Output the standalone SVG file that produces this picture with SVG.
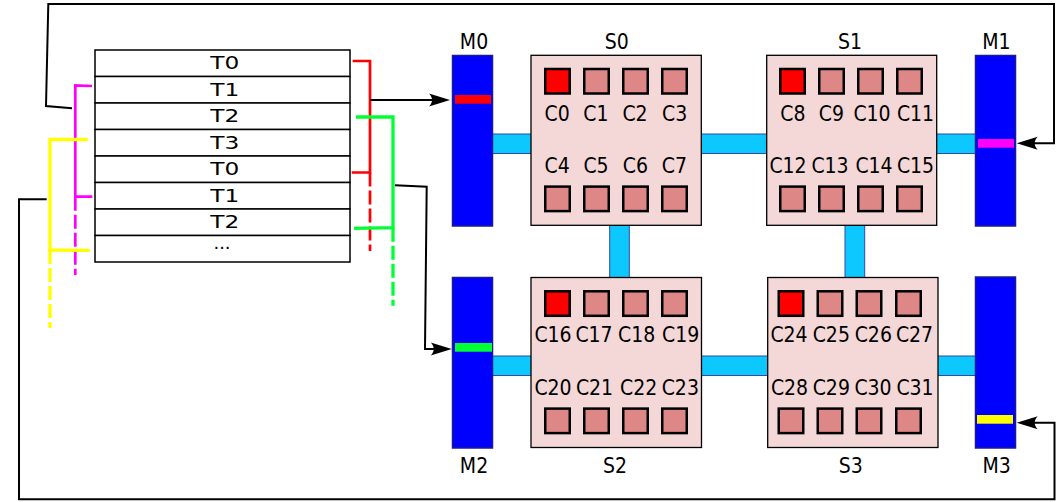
<svg xmlns="http://www.w3.org/2000/svg" width="1063" height="502" viewBox="0 0 1063 502">
<style>
.lbl{font-family:'DejaVu Sans Condensed','DejaVu Sans',sans-serif;font-stretch:condensed;font-size:21px;fill:#000;text-anchor:middle}
.ttxt{font-family:'DejaVu Sans',sans-serif;font-size:18px;fill:#000;text-anchor:middle}
.core{fill:#de8787;stroke:#000;stroke-width:2.5}
.hot{fill:#ff0000}
.sock{fill:#f4d7d7;stroke:#000;stroke-width:1.3}
.mem{fill:#0000ff;stroke:#1b1b8f;stroke-width:1.5}
.link{fill:#0cc8ff;stroke:#3548a5;stroke-width:1}
.row{fill:#fff;stroke:#000;stroke-width:1.5}
.wire{fill:none;stroke:#000;stroke-width:2}
.br{fill:none;stroke-linejoin:miter}
.dash{stroke-dasharray:14 4}
</style>
<defs>
<marker id="arr" markerUnits="userSpaceOnUse" markerWidth="26" markerHeight="16" viewBox="-22 -8 24 16" refX="-6" refY="0" orient="auto">
<path d="M0,0 L-21,-6.5 C-17,-2.5 -17,2.5 -21,6.5 Z" fill="#000"/>
</marker>
</defs>
<rect width="1063" height="502" fill="#fff"/>

<g id="links">
<rect class="link" x="492" y="134" width="40" height="19.5"/>
<rect class="link" x="700" y="134" width="68" height="19.5"/>
<rect class="link" x="936" y="134" width="40" height="19.5"/>
<rect class="link" x="492" y="356" width="40" height="19.5"/>
<rect class="link" x="700" y="356" width="68" height="19.5"/>
<rect class="link" x="937" y="356" width="40" height="19.5"/>
<rect class="link" x="609.7" y="224" width="19.6" height="54"/>
<rect class="link" x="845" y="224" width="19.7" height="54"/>
</g>

<g id="table">
<rect class="row" x="95" y="50" width="255" height="26.5"/>
<rect class="row" x="95" y="76.5" width="255" height="26.5"/>
<rect class="row" x="95" y="103" width="255" height="26.5"/>
<rect class="row" x="95" y="129.5" width="255" height="26.5"/>
<rect class="row" x="95" y="156" width="255" height="26.5"/>
<rect class="row" x="95" y="182.5" width="255" height="26.5"/>
<rect class="row" x="95" y="209" width="255" height="26.5"/>
<rect class="row" x="95" y="235.5" width="255" height="26.5"/>
<text class="ttxt" x="224.7" y="69" textLength="29" lengthAdjust="spacingAndGlyphs">T0</text>
<text class="ttxt" x="224.7" y="95.5" textLength="29" lengthAdjust="spacingAndGlyphs">T1</text>
<text class="ttxt" x="224.7" y="122" textLength="29" lengthAdjust="spacingAndGlyphs">T2</text>
<text class="ttxt" x="224.7" y="148.5" textLength="29" lengthAdjust="spacingAndGlyphs">T3</text>
<text class="ttxt" x="224.7" y="175" textLength="29" lengthAdjust="spacingAndGlyphs">T0</text>
<text class="ttxt" x="224.7" y="201.5" textLength="29" lengthAdjust="spacingAndGlyphs">T1</text>
<text class="ttxt" x="224.7" y="228" textLength="29" lengthAdjust="spacingAndGlyphs">T2</text>
<text class="ttxt" x="222" y="249">...</text>
</g>

<g id="M0">
<rect class="mem" x="452.5" y="55.5" width="40" height="170.5"/>
<rect x="455" y="95" width="36" height="8.7" fill="#ff0000"/>
<text class="lbl" x="474" y="49.3">M0</text>
</g>
<g id="M1">
<rect class="mem" x="975.5" y="55.5" width="40" height="170.5"/>
<rect x="978" y="139" width="36" height="8.7" fill="#ff00ff"/>
<text class="lbl" x="996.3" y="49.3">M1</text>
</g>
<g id="M2">
<rect class="mem" x="452.5" y="277.5" width="40" height="170.5"/>
<rect x="455" y="343" width="37" height="8.7" fill="#00ff33"/>
<text class="lbl" x="474" y="473.3">M2</text>
</g>
<g id="M3">
<rect class="mem" x="975.5" y="277" width="40" height="171"/>
<rect x="977" y="415" width="36" height="8.7" fill="#ffff00"/>
<text class="lbl" x="996.7" y="473.3">M3</text>
</g>

<g id="S0">
<rect class="sock" x="531" y="55.3" width="170.3" height="170"/>
<text class="lbl" x="616.7" y="49.3">S0</text>
<rect class="core hot" x="545.25" y="69" width="24.5" height="24.5"/>
<rect class="core" x="584.25" y="69" width="24.5" height="24.5"/>
<rect class="core" x="623.25" y="69" width="24.5" height="24.5"/>
<rect class="core" x="662.25" y="69" width="24.5" height="24.5"/>
<rect class="core" x="545.25" y="186.6" width="24.5" height="24.5"/>
<rect class="core" x="584.25" y="186.6" width="24.5" height="24.5"/>
<rect class="core" x="623.25" y="186.6" width="24.5" height="24.5"/>
<rect class="core" x="662.25" y="186.6" width="24.5" height="24.5"/>
<text class="lbl" x="557.2" y="121">C0</text>
<text class="lbl" x="595.8" y="121">C1</text>
<text class="lbl" x="635" y="121">C2</text>
<text class="lbl" x="674.7" y="121">C3</text>
<text class="lbl" x="557.2" y="173">C4</text>
<text class="lbl" x="596" y="173">C5</text>
<text class="lbl" x="635.3" y="173">C6</text>
<text class="lbl" x="674.3" y="173">C7</text>
</g>

<g id="S1">
<rect class="sock" x="766.7" y="55.3" width="170" height="170"/>
<text class="lbl" x="850" y="49.3">S1</text>
<rect class="core hot" x="780.25" y="69" width="24.5" height="24.5"/>
<rect class="core" x="819.25" y="69" width="24.5" height="24.5"/>
<rect class="core" x="858.25" y="69" width="24.5" height="24.5"/>
<rect class="core" x="897.25" y="69" width="24.5" height="24.5"/>
<rect class="core" x="780.25" y="186.6" width="24.5" height="24.5"/>
<rect class="core" x="819.25" y="186.6" width="24.5" height="24.5"/>
<rect class="core" x="858.25" y="186.6" width="24.5" height="24.5"/>
<rect class="core" x="897.25" y="186.6" width="24.5" height="24.5"/>
<text class="lbl" x="792.8" y="121">C8</text>
<text class="lbl" x="831.3" y="121">C9</text>
<text class="lbl" x="872" y="121">C10</text>
<text class="lbl" x="915.5" y="121">C11</text>
<text class="lbl" x="788" y="173">C12</text>
<text class="lbl" x="830" y="173">C13</text>
<text class="lbl" x="874" y="173">C14</text>
<text class="lbl" x="915.5" y="173">C15</text>
</g>

<g id="S2">
<rect class="sock" x="531" y="277.5" width="170.5" height="170"/>
<text class="lbl" x="615" y="473.3">S2</text>
<rect class="core hot" x="545.25" y="291.3" width="24.5" height="24.5"/>
<rect class="core" x="584.25" y="291.3" width="24.5" height="24.5"/>
<rect class="core" x="623.25" y="291.3" width="24.5" height="24.5"/>
<rect class="core" x="662.25" y="291.3" width="24.5" height="24.5"/>
<rect class="core" x="545.25" y="408.6" width="24.5" height="24.5"/>
<rect class="core" x="584.25" y="408.6" width="24.5" height="24.5"/>
<rect class="core" x="623.25" y="408.6" width="24.5" height="24.5"/>
<rect class="core" x="662.25" y="408.6" width="24.5" height="24.5"/>
<text class="lbl" x="553" y="342.3">C16</text>
<text class="lbl" x="594" y="342.3">C17</text>
<text class="lbl" x="636.7" y="342.3">C18</text>
<text class="lbl" x="680.7" y="342.3">C19</text>
<text class="lbl" x="553" y="395">C20</text>
<text class="lbl" x="594.5" y="395">C21</text>
<text class="lbl" x="638.7" y="395">C22</text>
<text class="lbl" x="680.3" y="395">C23</text>
</g>

<g id="S3">
<rect class="sock" x="767.7" y="277.5" width="170.3" height="170"/>
<text class="lbl" x="850.7" y="473.3">S3</text>
<rect class="core hot" x="778.75" y="291.3" width="24.5" height="24.5"/>
<rect class="core" x="817.75" y="291.3" width="24.5" height="24.5"/>
<rect class="core" x="856.75" y="291.3" width="24.5" height="24.5"/>
<rect class="core" x="896.25" y="291.3" width="24.5" height="24.5"/>
<rect class="core" x="778.75" y="408.6" width="24.5" height="24.5"/>
<rect class="core" x="817.75" y="408.6" width="24.5" height="24.5"/>
<rect class="core" x="856.75" y="408.6" width="24.5" height="24.5"/>
<rect class="core" x="896.25" y="408.6" width="24.5" height="24.5"/>
<text class="lbl" x="789" y="342.3">C24</text>
<text class="lbl" x="831.3" y="342.3">C25</text>
<text class="lbl" x="873.3" y="342.3">C26</text>
<text class="lbl" x="914.5" y="342.3">C27</text>
<text class="lbl" x="789.5" y="395">C28</text>
<text class="lbl" x="831.3" y="395">C29</text>
<text class="lbl" x="873" y="395">C30</text>
<text class="lbl" x="915" y="395">C31</text>
</g>

<g id="brackets">
<path class="br" d="M352.7,61 L370,61 L370,172.5 L351.7,172.5" stroke="#ff0000" stroke-width="2.7"/>
<path class="br dash" d="M370,172.5 L370,251" stroke="#ff0000" stroke-width="2.7"/>
<path class="br" d="M356,117 L393,117 L393,227.7 L354,228.3" stroke="#00ff33" stroke-width="3.3"/>
<path class="br dash" d="M393,227.7 L393,305.7" stroke="#00ff33" stroke-width="3.3"/>
<path class="br" d="M92,86 L75.3,85.3 L75.3,196.7 L92.3,196.7" stroke="#ff00ff" stroke-width="2.7"/>
<path class="br dash" d="M75.3,196.7 L75.3,275" stroke="#ff00ff" stroke-width="2.7"/>
<path class="br" d="M87.7,139.5 L50,139.3 L50,250 L89.7,250.3" stroke="#ffff00" stroke-width="3.3"/>
<path class="br dash" d="M50,250 L50,328" stroke="#ffff00" stroke-width="3.3"/>
</g>

<g id="connectors">
<path class="wire" d="M72,108.3 L46,106 L48.3,4 L1054,4 L1054,143.3 L1022.7,143.3" marker-end="url(#arr)"/>
<path class="wire" d="M46.7,199.3 L19,199.3 L19,499.3 L1054.5,499.3 L1054.5,422.7 L1022.7,422.7" marker-end="url(#arr)"/>
<path class="wire" d="M370,100 L444,100" marker-end="url(#arr)"/>
<path class="wire" d="M395,185.3 L426.7,186.7 L425,349 L445.7,349" marker-end="url(#arr)"/>
</g>
</svg>
